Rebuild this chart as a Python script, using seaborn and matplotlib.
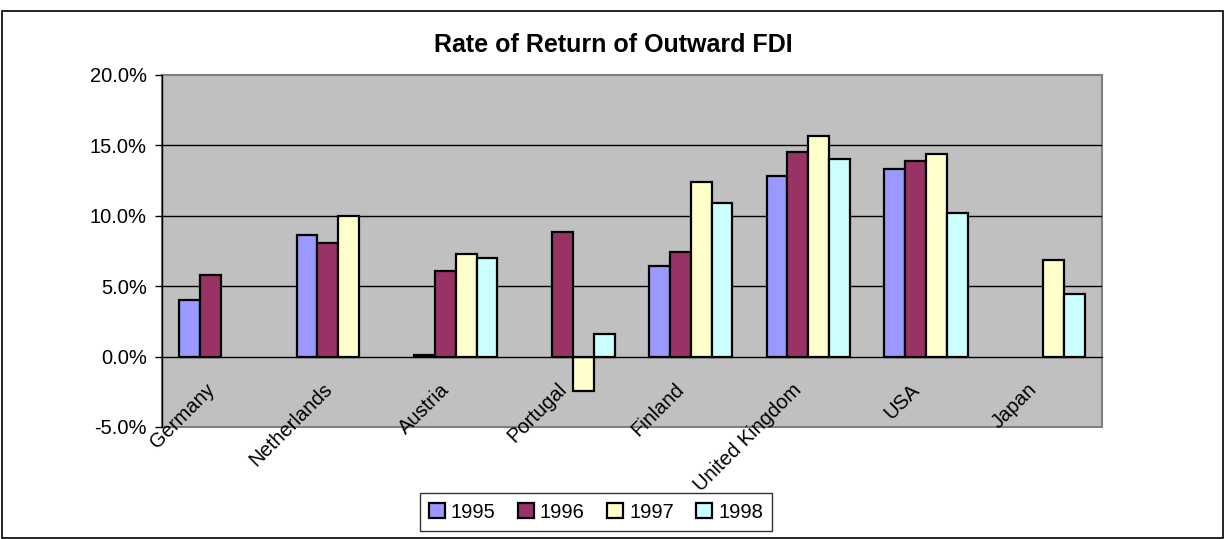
import numpy as np
import pandas as pd
import seaborn as sns
import matplotlib
matplotlib.use("Agg")
import matplotlib.pyplot as plt
import matplotlib.transforms as mtransforms
from matplotlib.patches import Rectangle
from matplotlib.ticker import FuncFormatter

sns.set_style("white")
plt.rcParams['font.family'] = ['Liberation Sans', 'DejaVu Sans']
plt.rcParams['text.color'] = 'black'
plt.rcParams['xtick.color'] = 'black'
plt.rcParams['ytick.color'] = 'black'

# data (rate of return, %)
countries = ["Germany", "Netherlands", "Austria", "Portugal", "Finland",
             "United Kingdom", "USA", "Japan"]
years = ["1995", "1996", "1997", "1998"]
r1995 = [4.03, 8.64, 0.14, np.nan, 6.46, 12.81, 13.35, np.nan]
r1996 = [5.78, 8.07, 6.09, 8.88, 7.41, 14.56, 13.90, np.nan]
r1997 = [np.nan, 9.97, 7.29, -2.44, 12.38, 15.65, 14.40, 6.87]
r1998 = [np.nan, np.nan, 7.00, 1.59, 10.90, 14.02, 10.23, 4.43]
colors = ["#9999FF", "#993366", "#FFFFCC", "#CCFFFF"]

rows = []
for yr, vals in zip(years, [r1995, r1996, r1997, r1998]):
    for c, v in zip(countries, vals):
        rows.append({"country": c, "year": yr, "value": v})
df = pd.DataFrame(rows)

fig = plt.figure(figsize=(12.26, 5.39), dpi=100)
ax = fig.add_axes([0.1321, 0.2078, 0.7668, 0.6531])
ax.set_facecolor("#C0C0C0")

sns.barplot(data=df, x="country", y="value", hue="year", order=countries,
            hue_order=years, palette=dict(zip(years, colors)), width=0.71,
            errorbar=None, edgecolor="black", linewidth=1.6, saturation=1,
            ax=ax, zorder=3)

ax.set_ylim(-5, 20)
ax.set_xlim(-0.5, 7.5)
ax.set_yticks([-5, 0, 5, 10, 15, 20])
ax.yaxis.set_major_formatter(FuncFormatter(lambda v, p: f"{v:.1f}%"))
for g in [5, 10, 15]:
    ax.axhline(g, color="black", linewidth=1, zorder=1)

for s in ["top", "right"]:
    ax.spines[s].set_visible(False)
ax.spines["left"].set_color("black")
ax.spines["left"].set_linewidth(1)
ax.spines["bottom"].set_position(("data", 0))
ax.spines["bottom"].set_color("black")
ax.spines["bottom"].set_linewidth(1)
ax.spines["bottom"].set_zorder(4)
ax.add_patch(Rectangle((0, 0), 1, 1, transform=ax.transAxes, fill=False,
                       edgecolor="#808080", linewidth=1.5, zorder=0.5,
                       clip_on=False))

ax.set_xlabel("")
ax.set_ylabel("")
ax.set_xticks(range(len(countries)))
ax.set_xticklabels(countries, rotation=45, ha="right", va="top",
                   rotation_mode="anchor")
ax.set_xticks(np.arange(-0.5, 8, 1), minor=True)
ax.tick_params(axis="x", which="major", length=0, pad=6, labelsize=14.5)
ax.tick_params(axis="x", which="minor", length=5, width=1, direction="out",
               color="black")
ax.tick_params(axis="y", length=5, width=1, direction="out", color="black",
               labelsize=14.5, left=True, pad=6)

# shift the rotated labels down-left like the original
shift = mtransforms.ScaledTranslation(-0.16, -0.15, fig.dpi_scale_trans)
for lbl in ax.get_xticklabels():
    lbl.set_transform(lbl.get_transform() + shift)

handles, labels = ax.get_legend_handles_labels()
ax.get_legend().remove()
leg = fig.legend(handles, labels, loc="center", bbox_to_anchor=(0.486, 0.05),
                 ncol=4, fontsize=14.5, frameon=True, fancybox=False,
                 edgecolor="black", handlelength=0.8, handleheight=0.8,
                 handletextpad=0.3, columnspacing=1.1, borderpad=0.45)
leg.get_frame().set_linewidth(1)

fig.text(0.5, 0.9165, "Rate of Return of Outward FDI", ha="center",
         va="center", fontsize=18, fontweight="bold")

fig.patches.append(Rectangle((0.0016, 0.002), 0.996, 0.9776,
                             transform=fig.transFigure, fill=False,
                             edgecolor="black", linewidth=1.2))

fig.savefig("out.png", dpi=100)
